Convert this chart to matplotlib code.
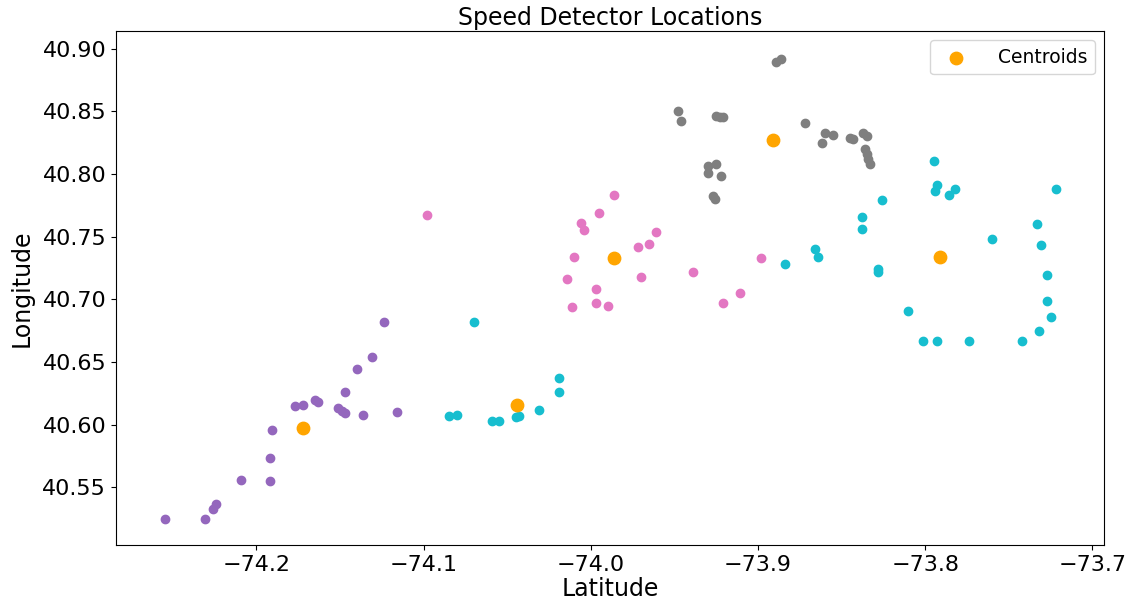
import numpy as np
import matplotlib
matplotlib.use('Agg')
import matplotlib.pyplot as plt

# detector coordinates per cluster (lon, lat)
purple_lon = [-74.255, -74.231, -74.226, -74.224, -74.209, -74.192, -74.192, -74.191,
              -74.177, -74.172, -74.165, -74.163, -74.151, -74.149, -74.147, -74.147,
              -74.140, -74.136, -74.131, -74.124, -74.116]
purple_lat = [40.525, 40.525, 40.533, 40.537, 40.556, 40.555, 40.573, 40.596,
              40.615, 40.616, 40.620, 40.618, 40.613, 40.611, 40.609, 40.626,
              40.644, 40.608, 40.654, 40.682, 40.610]

pink_lon = [-74.098, -73.986, -73.995, -74.006, -74.004, -74.010, -74.014, -74.011,
            -73.997, -73.997, -73.990, -73.972, -73.965, -73.961, -73.970, -73.939,
            -73.898, -73.921, -73.911]
pink_lat = [40.767, 40.783, 40.769, 40.761, 40.755, 40.734, 40.716, 40.694,
            40.708, 40.697, 40.695, 40.742, 40.744, 40.754, 40.718, 40.722,
            40.733, 40.697, 40.705]

gray_lon = [-73.948, -73.946, -73.925, -73.923, -73.921, -73.930, -73.925, -73.930,
            -73.922, -73.927, -73.926, -73.889, -73.886, -73.872, -73.860, -73.855,
            -73.862, -73.843, -73.845, -73.837, -73.835, -73.836, -73.835, -73.834,
            -73.833]
gray_lat = [40.850, 40.842, 40.846, 40.845, 40.845, 40.806, 40.808, 40.801,
            40.798, 40.782, 40.780, 40.889, 40.892, 40.841, 40.833, 40.831,
            40.825, 40.828, 40.829, 40.833, 40.830, 40.820, 40.816, 40.812,
            40.808]

cyan_lon = [-74.070, -74.085, -74.080, -74.059, -74.055, -74.045, -74.043, -74.031,
            -74.019, -74.019, -73.884, -73.866, -73.864, -73.828, -73.828, -73.838,
            -73.838, -73.826, -73.795, -73.793, -73.794, -73.786, -73.782, -73.810,
            -73.801, -73.793, -73.774, -73.760, -73.742, -73.732, -73.725, -73.727,
            -73.727, -73.731, -73.733, -73.722]
cyan_lat = [40.682, 40.607, 40.608, 40.603, 40.603, 40.606, 40.607, 40.612,
            40.626, 40.637, 40.728, 40.740, 40.734, 40.724, 40.722, 40.766,
            40.756, 40.779, 40.810, 40.791, 40.786, 40.783, 40.788, 40.691,
            40.667, 40.667, 40.667, 40.748, 40.667, 40.675, 40.686, 40.699,
            40.719, 40.743, 40.760, 40.788]

centroid_lon = [-74.172, -74.044, -73.986, -73.891, -73.791]
centroid_lat = [40.597, 40.616, 40.733, 40.827, 40.734]

fig = plt.figure(figsize=(11.32, 6.04), dpi=100)
ax = fig.add_axes([0.1025, 0.0977, 0.8728, 0.851])

ax.scatter(purple_lon, purple_lat, s=36, color='#9467bd')
ax.scatter(pink_lon, pink_lat, s=36, color='#e377c2')
ax.scatter(gray_lon, gray_lat, s=36, color='#7f7f7f')
ax.scatter(cyan_lon, cyan_lat, s=36, color='#17becf')
ax.scatter(centroid_lon, centroid_lat, s=80, color='orange', label='Centroids')

ax.set_xlim(-74.284, -73.693)
ax.set_ylim(40.504, 40.914)
ax.set_xticks([-74.2, -74.1, -74.0, -73.9, -73.8, -73.7])
ax.set_yticks([40.55, 40.60, 40.65, 40.70, 40.75, 40.80, 40.85, 40.90])
ax.set_yticklabels(['40.55', '40.60', '40.65', '40.70', '40.75', '40.80', '40.85', '40.90'])
ax.tick_params(labelsize=16)

ax.set_xlabel('Latitude', fontsize=17, labelpad=2)
ax.set_ylabel('Longitude', fontsize=17, labelpad=6)
ax.set_title('Speed Detector Locations', fontsize=17, pad=4)
ax.legend(loc='upper right', fontsize=13.5, handletextpad=1.2)

fig.savefig('out.png', dpi=100)
